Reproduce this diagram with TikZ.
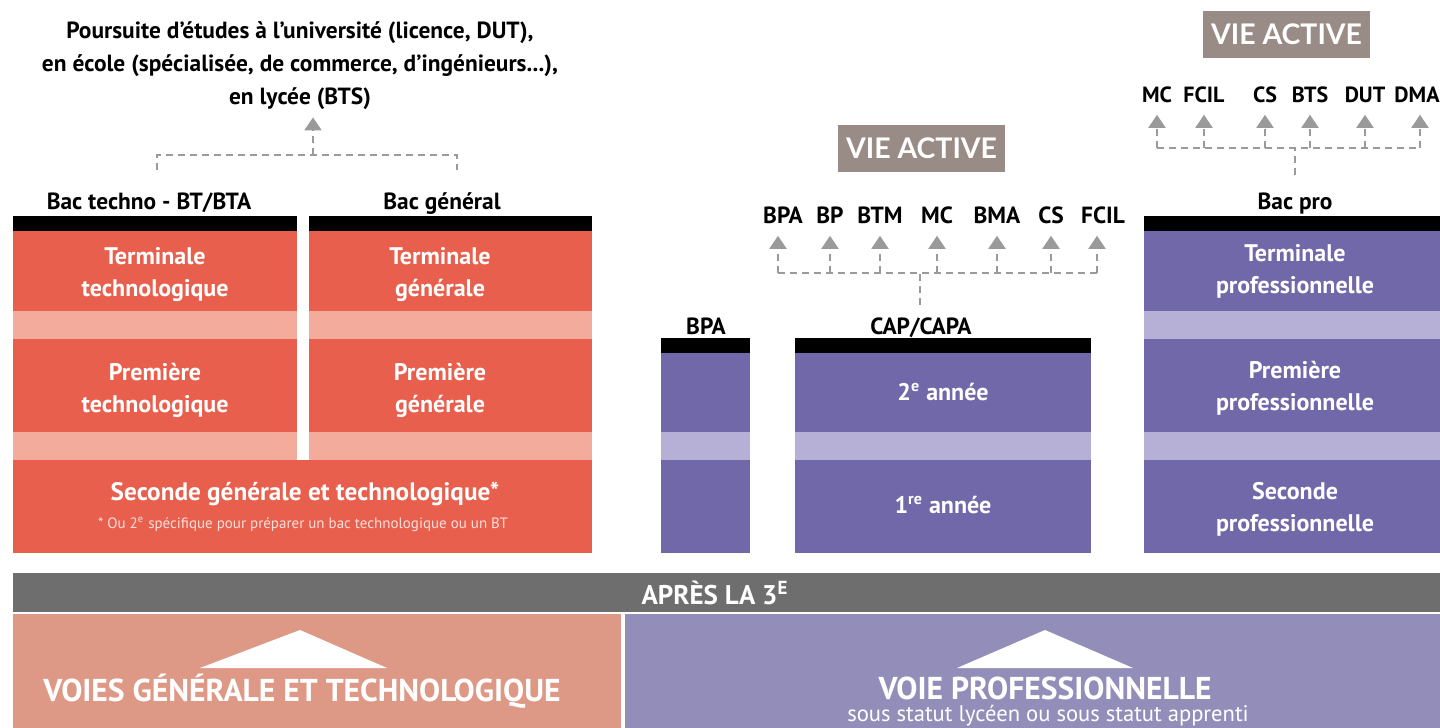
\documentclass[tikz,border=0pt]{standalone}
\usepackage{fontspec}
\setmainfont{PT Sans}
\newfontfamily\vafont{Lato}
\usetikzlibrary{arrows.meta}
\definecolor{redbox}{HTML}{E8604D}
\definecolor{redband}{HTML}{F3AB9C}
\definecolor{purbox}{HTML}{7168AA}
\definecolor{purband}{HTML}{B6B0D6}
\definecolor{bargray}{HTML}{6E6E6E}
\definecolor{salmon}{HTML}{DE9986}
\definecolor{lav}{HTML}{938EB9}
\definecolor{taupe}{HTML}{998B86}
\definecolor{arrgray}{HTML}{9A9A9A}
\tikzset{
  lbl/.style={font=\bfseries\fontsize{11.7}{13}\selectfont, inner sep=0pt, text height=8.4pt, text depth=0pt},
  rlbl/.style={lbl, font=\bfseries\fontsize{11}{13}\selectfont},
  btxt/.style={text=white, font=\bfseries\fontsize{12}{16}\selectfont, align=center, inner sep=0pt},
  conn/.style={draw=arrgray, dash pattern=on 3.5pt off 2.5pt, line width=1pt},
  tip/.style={-{Triangle[width=8.5pt,length=6.5pt]}, shorten >=#1},
  vabox/.style={fill=taupe, text=white, font=\vafont\bfseries\fontsize{14.2}{17}\selectfont, minimum width=83.5pt, minimum height=23.5pt, inner sep=0pt},
  headbar/.style={fill=black},
}
\begin{document}
\begin{tikzpicture}[x=0.5pt,y=-0.5pt]
\useasboundingbox (0,0) rectangle (1440,728);
\fill[white] (0,0) rectangle (1440,728);

% ---------------- left: general & technological
\node[font=\bfseries\fontsize{11.7}{16.5}\selectfont, align=center, inner sep=0pt] (pours) at (300,66)
  {Poursuite d'études à l'université (licence, DUT),\\en école (spécialisée, de commerce, d'ingénieurs...),\\en lycée (BTS)};
\node[lbl] (btech) at (149,201) {Bac techno - BT/BTA};
\node[lbl] (bgen) at (442,201) {Bac général};

\fill[headbar] (13,216) rectangle (297,231);
\fill[headbar] (309,216) rectangle (592,231);
\fill[redbox] (13,231) rectangle (297,311);
\fill[redbox] (309,231) rectangle (592,311);
\fill[redband] (13,311) rectangle (297,339);
\fill[redband] (309,311) rectangle (592,339);
\fill[redbox] (13,339) rectangle (297,432);
\fill[redbox] (309,339) rectangle (592,432);
\fill[redband] (13,432) rectangle (297,460);
\fill[redband] (309,432) rectangle (592,460);
\fill[redbox] (13,460) rectangle (592,553);

\node[btxt] (tt) at (155,275) {Terminale\\technologique};
\node[btxt] (tg) at (440,275) {Terminale\\générale};
\node[btxt] (pt) at (155,390) {Première\\technologique};
\node[btxt] (pg) at (440,390) {Première\\générale};
\node[btxt, font=\bfseries\fontsize{12.6}{16}\selectfont] (sgt) at (305,494) {Seconde générale et technologique*};
\node[text=white!80!redbox, font=\fontsize{7.5}{9}\selectfont, inner sep=0pt] (fn) at (303,524)
  {* Ou 2\textsuperscript{e} spécifique pour préparer un bac technologique ou un BT};

\coordinate (lj) at (313,155);
\coordinate (ll) at (157,155);
\coordinate (lr) at (457,155);
\draw[conn] (157,170) -- (ll) -- (lr) -- (457,170);
\draw[conn, tip=3.5pt] (lj) -- (pours.south -| lj);

% ---------------- middle: BPA & CAP
\node[vabox] (va1) at (921.5,148.5) {VIE ACTIVE};
\foreach \n/\x in {BPA/783, BP/830, BTM/880, MC/937, BMA/997, CS/1051, FCIL/1103}{
  \node[lbl] (m\n) at (\x,215) {\n};
}
\coordinate (mj) at (920,273);
\draw[conn] (778,273) -- (1097,273);
\foreach \n/\x in {BPA/778, BP/830, BTM/880, MC/937, BMA/997, CS/1051, FCIL/1097}{
  \draw[conn, tip=6pt] (\x,273) -- (m\n.south -| \x,0);
}
\node[lbl] (bpa) at (706,326) {BPA};
\node[lbl] (cap) at (921,326) {CAP/CAPA};
\draw[conn] (cap.north -| mj) ++(0,-12) -- (mj);

\fill[headbar] (661,338) rectangle (750,353);
\fill[purbox] (661,353) rectangle (750,432);
\fill[purband] (661,432) rectangle (750,460);
\fill[purbox] (661,460) rectangle (750,553);

\fill[headbar] (795,338) rectangle (1091,353);
\fill[purbox] (795,353) rectangle (1091,432);
\fill[purband] (795,432) rectangle (1091,460);
\fill[purbox] (795,460) rectangle (1091,553);
\node[btxt] (c2) at (943,392) {2\textsuperscript{e} année};
\node[btxt] (c1) at (943,505) {1\textsuperscript{re} année};

% ---------------- right: Bac pro
\node[vabox] (va2) at (1286.5,34.5) {VIE ACTIVE};
\foreach \n/\x in {MC/1157, FCIL/1204, CS/1265, BTS/1310, DUT/1365, DMA/1417}{
  \node[rlbl] (r\n) at (\x,94) {\n};
}
\foreach \n/\x in {MC/1157, FCIL/1204, CS/1265, BTS/1310, DUT/1365, DMA/1420}{
  \draw[conn, tip=6pt] (\x,148) -- (r\n.south -| \x,0);
}
\draw[conn] (1157,148) -- (1420,148);
\coordinate (rj) at (1295,148);
\node[lbl] (bpro) at (1295,201) {Bac pro};
\draw[conn] (1295,175) -- (rj);

\fill[headbar] (1144,216) rectangle (1440,231);
\fill[purbox] (1144,231) rectangle (1440,311);
\fill[purband] (1144,311) rectangle (1440,339);
\fill[purbox] (1144,339) rectangle (1440,432);
\fill[purband] (1144,432) rectangle (1440,460);
\fill[purbox] (1144,460) rectangle (1440,553);
\node[btxt] (tp) at (1295,271.5) {Terminale\\professionnelle};
\node[btxt] (pp) at (1295,388) {Première\\professionnelle};
\node[btxt] (sp) at (1295,509.5) {Seconde\\professionnelle};

% ---------------- bottom
\fill[bargray] (13,573) rectangle (1440,612);
\node[text=white, font=\bfseries\fontsize{13.5}{16}\selectfont, inner sep=0pt] (apres) at (715,593) {APRÈS LA 3\textsuperscript{E}};
\fill[salmon] (13,614) rectangle (621,728);
\fill[lav] (625,614) rectangle (1440,728);
\fill[white] (300,630) -- (387,668) -- (200,668) -- cycle;
\fill[white] (1045,630) -- (1133,668) -- (957,668) -- cycle;
\node[text=white, font=\bfseries\fontsize{15.8}{18}\selectfont, inner sep=0pt] (vgt) at (302,691) {VOIES GÉNÉRALE ET TECHNOLOGIQUE};
\node[text=white, font=\bfseries\fontsize{15.8}{18}\selectfont, inner sep=0pt] (vp) at (1045,688) {VOIE PROFESSIONNELLE};
\node[text=white, font=\fontsize{11.3}{13}\selectfont, inner sep=0pt] (stat) at (1048,716) {sous statut lycéen ou sous statut apprenti};
\end{tikzpicture}
\end{document}
